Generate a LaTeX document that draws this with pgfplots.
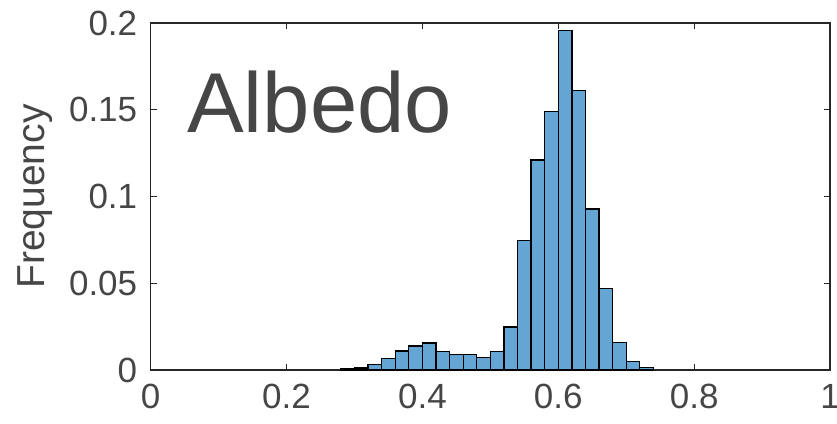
\documentclass[border=0pt]{standalone}
\usepackage{pgfplots}
\pgfplotsset{compat=1.18}
\usepackage{fontspec}
\setmainfont{Liberation Sans}
\definecolor{barblue}{RGB}{100,165,212}
\definecolor{axgray}{RGB}{38,38,38}
\definecolor{txtgray}{RGB}{70,70,70}
\begin{document}
\begin{tikzpicture}
\begin{axis}[
  scale only axis, width=679.3pt, height=347pt,
  xmin=0, xmax=1, ymin=0, ymax=0.2,
  xtick={0,0.2,0.4,0.6,0.8,1},
  ytick={0,0.05,0.1,0.15,0.2},
  tick align=inside, major tick length=6pt,
  tick style={axgray, line width=1pt},
  axis line style={axgray, line width=1.5pt},
  ticklabel style={font=\fontsize{35}{40}\selectfont, text=txtgray},
  /pgf/number format/assume math mode=true,
  /pgf/number format/.cd, fixed, precision=2, /pgfplots/.cd,
  xticklabel style={yshift=-11pt},
  yticklabel style={xshift=-10pt},
  ylabel={Frequency},
  ylabel style={font=\fontsize{39}{44}\selectfont, text=txtgray, at={(axis description cs:0,0.5)}, anchor=center, yshift=116pt},
  clip=false,
]
\addplot[ybar interval, fill=barblue, draw=black, line width=1.3pt] coordinates {
(0.28,0.0010) (0.30,0.0012) (0.32,0.0033) (0.34,0.0065) (0.36,0.0110)
(0.38,0.0138) (0.40,0.0156) (0.42,0.0108) (0.44,0.0090) (0.46,0.0090)
(0.48,0.0073) (0.50,0.0108) (0.52,0.0248) (0.54,0.0745) (0.56,0.1210)
(0.58,0.1490) (0.60,0.1955) (0.62,0.1610) (0.64,0.0928) (0.66,0.0469)
(0.68,0.0157) (0.70,0.0048) (0.72,0.0016) (0.74,0.0016)
};
\node[anchor=base west, font=\fontsize{85}{90}\selectfont, text=txtgray, inner sep=0pt] at (rel axis cs:0.0534,0.683) {Albedo};
\coordinate (sw) at (rel axis cs:0,0);
\coordinate (ne) at (rel axis cs:1,1);
\end{axis}
\pgfresetboundingbox
\useasboundingbox ([xshift=-150.7pt,yshift=-54pt]sw) rectangle ([xshift=7pt,yshift=23pt]ne);
\end{tikzpicture}
\end{document}
